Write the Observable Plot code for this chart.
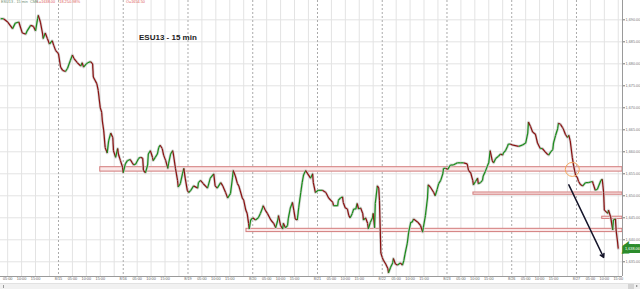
<!DOCTYPE html>
<html><head><meta charset="utf-8">
<script src="https://cdn.jsdelivr.net/npm/d3@7"></script>
<script src="https://cdn.jsdelivr.net/npm/@observablehq/plot@0.6"></script>
<style>
body{margin:0;background:#fff;font-family:"Liberation Sans",Arial,sans-serif;}
#wrap{position:relative;width:640px;height:289px;overflow:hidden;background:#fff}
#chart svg{display:block}
.hdr{position:absolute;top:0px;font-size:3.8px;line-height:5px;white-space:nowrap}
.g{color:#6f8f6f}.r{color:#e05a5a}
#title{position:absolute;left:139px;top:33px;font-size:8px;font-weight:bold;color:#222;white-space:nowrap}
#scroll{position:absolute;left:0;top:283px;width:640px;height:6px;background:#f1f1f1;border-top:1px solid #e2e2e2;box-sizing:border-box}
#scroll .l{position:absolute;left:3px;top:1px;width:1px;height:3px;background:#999}
#scroll .b{position:absolute;left:628px;top:0px;width:6px;height:5px;background:#d4d4d4}
#scroll .a{position:absolute;left:636px;top:1px;width:0;height:0;border-top:1.5px solid transparent;border-bottom:1.5px solid transparent;border-left:2px solid #777}
</style></head>
<body><div id="wrap"><div id="chart"></div>
<div class="hdr g" style="left:1px">ESU13 - 15 min&nbsp; CME</div>
<div class="hdr r" style="left:37px">L=1638.00</div>
<div class="hdr r" style="left:58px">-18.25</div>
<div class="hdr r" style="left:68px">-0.98%</div>
<div class="hdr r" style="left:126px">O=1654.50</div>
<div id="title">ESU13 - 15 min</div>
<div id="scroll"><div class="l"></div><div class="b"></div><div class="a"></div></div>
</div>
<script>
// sessions (15-min bars, 93 bars per session)
const days = ["8/14","8/15","8/16","8/19","8/20","8/21","8/22","8/23","8/26","8/27"];
const barsPerDay = 93;
const timeLabels = ["05:00","10:00","15:00"];
const timeOffsets = [20, 40, 60];
const gridOffsets = [20, 40, 60, 80];
const yTicks = [1635,1640,1645,1650,1655,1660,1665,1670,1675,1680,1685,1690];
const xDomain = [9.7, 903.1];
const yDomain = [1631.66, 1694.39];

// bar index and close price
const bars = [
10,14,20,27,31,36,41,46,48,53,
57,60,63,64,67,70,71,74,77,80,
84,86,89,92,93,96,99,103,106,110,
113,115,120,125,127,129,133,135,139,142,
143,148,150,153,155,156,158,160,
163,165,168,171,172,175,178,179,182,185,
186,189,192,196,199,201,204,208,211,214,
215,218,221,222,225,228,229,232,235,237,
239,242,244,247,250,251,254,257,258,261,
264,265,268,271,273,275,278,280,283,287,
293,294,297,301,307,308,311,316,318,321,
326,329,333,336,340,343,344,347,350,352,
357,359,362,364,366,367,369,372,376,380,
383,386,387,390,393,398,402,405,408,409,
412,415,416,419,422,423,426,429,431,433,
436,438,441,443,445,448,451,455,458,459,
462,466,472,477,481,487,488,494,495,498,
501,502,505,508,510,512,515,517,520,522,
524,527,530,531,534,537,538,541,544,545,
547,548,551,553,554,556,558,560,563,566,
567,570,573,574,577,580,584,587,589,591,
594,596,599,601,603,609,613,616,617,620,
623,624,627,632,634,637,639,642,645,646,
649,652,656,660,663,666,670,675,680,682,
685,688,689,692,695,696,699,702,703,706,
709,711,713,716,718,721,725,728,731,732,
735,738,739,742,746,754,759,764,767,768,
771,774,778,781,785,788,792,795,797,800,
803,804,807,810,811,814,817,818,821,824,
826,828,831,833,836,838,840,843,846,850,
854,860,861,864,867,872,874,876,877,882,
883,886,889,890,893,894,896,897
];
const closes = [
1690.25,1690.25,1689.5,1688,1689.25,1689.5,1687,1686.75,1687.5,1688.75,
1688.5,1687.5,1690.25,1691,1689.5,1687,1685.75,1687,1685.75,1684.5,
1685.25,1684.25,1683,1682.5,1682.25,1679.25,1678.5,1678.25,1679,1680.75,
1682,1681.25,1680.25,1679.5,1680.25,1679.25,1680,1680.25,1680.5,1680,
1677,1675.5,1674,1670,1669,1667,1664.75,1661,
1659.75,1662.5,1664.25,1663.25,1660.25,1658.75,1660.75,1659.5,1658,1656.5,
1655.25,1657.25,1658,1658.25,1657.5,1657,1657.25,1658.5,1658.75,1658.5,
1655.75,1655.25,1657,1659.5,1660.25,1658.75,1658,1658.75,1659.5,1661,
1661.5,1660.75,1659.25,1658,1656.25,1657.25,1659.5,1660.25,1659.5,1656.25,
1653.5,1652,1652.75,1655,1656.25,1654,1651.25,1650.75,1651.25,1652.25,
1651.75,1653,1653.5,1652.75,1651.75,1652.25,1654,1655,1652.25,1651.75,
1653,1652.25,1650.75,1649.5,1650.5,1654.25,1655.75,1654.5,1652.75,1652.25,
1649.5,1649,1646.75,1646,1643.75,1642.5,1644.5,1645,1644.5,1645,
1646,1647.25,1647.75,1646.75,1646,1644.5,1643.75,1642.75,1644.5,1645.5,
1643.25,1642.5,1643.75,1642.75,1643.25,1644.75,1647.25,1648.5,1646.75,1644.75,
1644.5,1647.25,1650.75,1653,1654.75,1655.75,1655,1654,1655,1653,
1650.75,1651.25,1651.25,1650.75,1649.5,1648.5,1647.75,1647.75,1649,1649.5,
1649.75,1648.5,1647.25,1647,1645.5,1645,1646,1647,1647,1648.25,
1647,1647.25,1646,1644.5,1645,1643.75,1642.5,1644,1645,1646,
1642.75,1648.25,1652.25,1651.75,1649,1637,1636,1635.25,1634.5,1633.5,
1632.5,1633.75,1634.75,1635.75,1634.5,1634.25,1634.75,1634.25,1635.25,1637,
1639.25,1641.75,1644,1644,1644.75,1644,1643.25,1641.75,1642.75,1645.5,
1649.5,1652.5,1652,1650.75,1650,1651.5,1652.75,1653.5,1655,1656.25,
1656.25,1656,1657,1657,1657.25,1657.5,1657.5,1657.5,1657.25,1655.75,
1655.25,1653.5,1652.5,1653.25,1654,1652.75,1653,1653.5,1654.5,1655.5,
1656.75,1657.5,1660.25,1658,1657.5,1658.5,1659,1659.5,1659.25,1659.75,
1660.25,1661.25,1661.75,1661.75,1661.5,1661.25,1661.5,1662,1664.25,1666.75,
1665.75,1664.5,1664,1662,1660.75,1660.75,1660,1659.5,1659.25,1660,
1660.5,1662,1663.75,1665.25,1666.5,1666.25,1665.5,1665.25,1664,1663.25,
1663.75,1662.5,1658.75,1656.75,1654.5,1654.25,1653.25,1652.5,1652.25,1653,
1653,1653.25,1652.75,1651.25,1651.5,1653.5,1653.75,1650.75,1646.75,1646,
1646.75,1645.25,1642.25,1644.5,1644.75,1642,1639.5,1638
];

// support / resistance zones
const zoneStart = [153, 363, 689, 874];
const zoneLow = [1655.5, 1641.75, 1650.25, 1644.75];
const zoneHigh = [1656.5, 1642.5, 1650.75, 1645.25];
// annotations
const circleAt = [{bar: 831, price: 1656}];
const arrowFrom = {bar: 826, price: 1652.5};
const arrowTo = {bar: 876, price: 1636};

const series = bars.map((b, i) => ({bar: b, close: closes[i]}));
const segs = series.slice(1).map((d, i) => ({x1: series[i].bar, y1: series[i].close, x2: d.bar, y2: d.close, up: d.close >= series[i].close}));
const zones = zoneStart.map((s, i) => ({start: s, lo: zoneLow[i], hi: zoneHigh[i]}));

const dayBars = [], gridBars = [], xTicks = [];
days.forEach((d, k) => {
  const s = k * barsPerDay;
  if (s >= xDomain[0]) { dayBars.push(s); xTicks.push({bar: s, label: d}); }
  gridOffsets.forEach(o => { if (s + o <= xDomain[1]) gridBars.push(s + o); });
  timeOffsets.forEach((o, j) => { if (s + o <= xDomain[1]) xTicks.push({bar: s + o, label: timeLabels[j]}); });
});
const last = series[series.length - 1];
const fmt = d3.format(",.2f");

const chart = Plot.plot({
  width: 640, height: 283,
  marginLeft: 0, marginRight: 18, marginTop: 0, marginBottom: 7,
  x: {domain: xDomain, axis: null},
  y: {domain: yDomain, axis: null},
  style: {background: "white", fontFamily: "Liberation Sans, Arial, sans-serif", overflow: "visible"},
  marks: [
    Plot.gridY(yTicks, {stroke: "#e3e3e3", strokeOpacity: 1}),
    Plot.ruleX(gridBars, {stroke: "#e3e3e3"}),
    Plot.ruleX(dayBars, {stroke: "#ababab", strokeDasharray: "2,2"}),
    Plot.rect(zones, {x1: "start", x2: () => xDomain[1], y1: "lo", y2: "hi", fill: "#fbe9e9", stroke: "#d27a7a", strokeWidth: 1}),
    Plot.line(series, {x: "bar", y: "close", stroke: "#cfcfcf", strokeWidth: 2.8, strokeOpacity: 0.8}),
    Plot.link(segs, {x1: "x1", y1: "y1", x2: "x2", y2: "y2", stroke: d => d.up ? "#1b8c1b" : "#8a1212", strokeWidth: 1.25}),
    Plot.dot(circleAt, {x: "bar", y: "price", r: 7, stroke: "#f2a55a", fill: "none", strokeWidth: 1}),
    Plot.arrow([{a: arrowFrom, b: arrowTo}], {x1: d => d.a.bar, y1: d => d.a.price, x2: d => d.b.bar, y2: d => d.b.price, stroke: "#15152a", strokeWidth: 1.5, headLength: 4}),
    Plot.ruleX([xDomain[1]], {stroke: "#9a9a9a"}),
    Plot.ruleY([yDomain[0]], {stroke: "#9a9a9a"}),
    Plot.axisY(yTicks, {anchor: "right", tickFormat: fmt, tickSize: 2, tickPadding: 1, fontSize: 3.8, color: "#777"}),
    Plot.text(xTicks, {x: "bar", text: "label", frameAnchor: "bottom", dy: 3.5, fontSize: 3.8, fill: "#666"}),
    Plot.text([last], {x: () => xDomain[1], y: "close", text: d => fmt(d.close), textAnchor: "start", dx: 2.5, fontSize: 3.8, fill: "white", stroke: "#2c8c2c", strokeWidth: 6, strokeLinejoin: "miter"})
  ]
});
document.getElementById("chart").appendChild(chart);
</script>
</body></html>
